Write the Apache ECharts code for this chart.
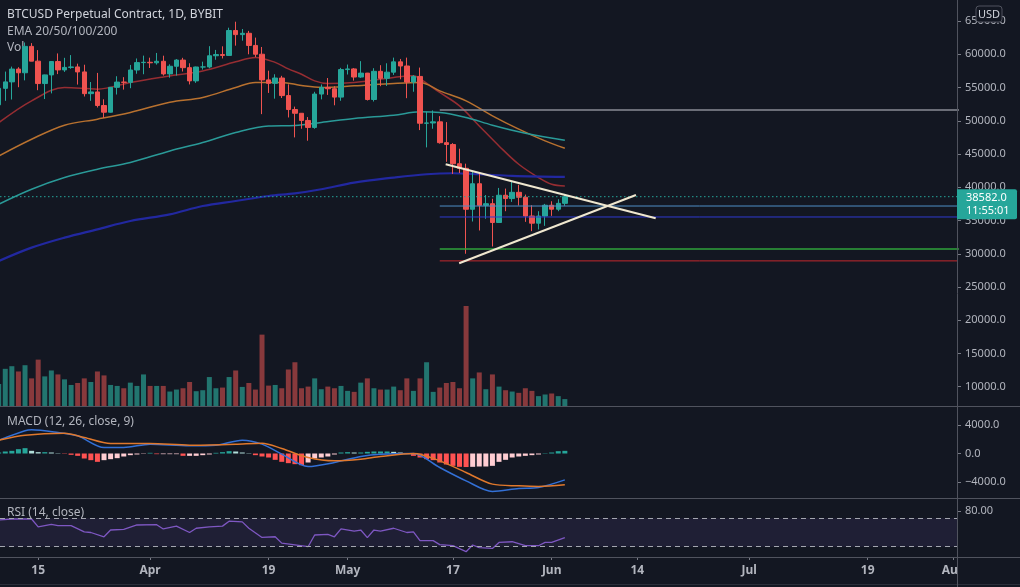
<!DOCTYPE html>
<html><head><meta charset="utf-8">
<script src="https://cdn.jsdelivr.net/npm/echarts@6/dist/echarts.min.js"></script>
<style>html,body{margin:0;padding:0;background:#131722;overflow:hidden}#c{width:1020px;height:587px}</style>
</head><body><div id="c"></div>
<script>
// ---- data (day index 0 = 2021-03-09) ----
const tickDays   = [6, 23, 41, 53, 69, 84, 97, 114, 132, 145];
const tickLabels = ['15', 'Apr', '19', 'May', '17', 'Jun', '14', 'Jul', '19', 'Au'];
const priceTicks = [10000,15000,20000,25000,30000,35000,40000,45000,50000,55000,60000,65000];
const macdTicks  = [-4000, 0, 4000];
const rsiTicks   = [80];

// [open, close, low, high]
const candles = [
[52400,54880,51850,54900],[54880,55850,53000,57400],[55850,57780,53200,58150],[57780,57220,55050,58060],
[57220,61190,56080,61780],[61190,58970,58960,61680],[58970,55600,54600,60630],[55600,56900,53270,56940],
[56900,58910,54120,58980],[58910,57650,57020,60130],[57650,58030,57350,59470],[58030,58100,57820,59880],
[58100,57350,55450,58590],[57350,54080,53650,58430],[54080,54340,53000,55830],[54340,52300,52000,57200],
[52300,51290,50430,53230],[51290,55030,51230,55070],[55030,55820,53950,56700],[55820,55780,54690,56560],
[55780,57640,54900,58400],[57640,58750,57070,59370],[58750,58800,57000,59800],[58800,58720,57940,59490],
[58720,58950,58450,60200],[58950,57050,56800,59790],[57050,58200,56480,58490],[58200,59130,56800,59280],
[59130,57990,57410,59470],[57990,56000,55470,58650],[56000,58090,55700,58150],[58090,58100,57700,58890],
[58100,59780,57900,61220],[59780,59960,59180,60660],[59960,59830,59370,61200],[59830,63580,59770,64000],
[63580,62960,61300,64900],[62960,63160,62050,63800],[63160,61330,60000,63520],[61330,60010,59580,62510],
[60010,56150,51000,61100],[56150,55630,54190,57530],[55630,56430,53330,57000],[56430,53790,53420,56760],
[53790,51690,50500,55480],[51690,51130,47500,52130],[51130,50050,48800,51170],[50050,49000,47000,50560],
[49000,54020,48800,54360],[54020,55030,53220,55460],[55030,54820,53890,56430],[54820,53560,52330,55200],
[53560,57700,53010,57960],[57700,57800,56960,58460],[57800,56580,56040,57940],[56580,57170,56450,58970],
[57170,53200,53050,57200],[53200,57440,52900,57910],[57440,56390,55200,58360],[56390,57310,55240,58650],
[57310,58860,56900,59500],[58860,58240,56240,59300],[58240,55820,53400,59500],[55820,56670,54370,56860],
[56670,49630,48600,58000],[49630,49670,46000,51370],[49670,49840,48800,51560],[49840,46710,46560,50700],
[46710,46430,43830,49800],[46430,43540,42000,46640],[43540,42850,42150,45800],[42850,36690,30000,43550],
[36690,40530,34850,42450],[40530,37280,33500,42250],[37280,37530,35260,38830],[37530,34700,31100,38270],
[34700,38800,34650,39900],[38800,38300,36400,39800],[38300,39240,37800,40850],[39240,38500,37250,40370],
[38500,35680,34800,38900],[35680,34600,33400,37300],[34600,35670,33650,36400],[35670,37300,34200,37500],
[37300,36700,35700,37900],[36700,37580,36400,38200],[37580,38582,37200,39000]
];
const volume = [
2200,3717,3980,3454,4079,2763,4638,2961,3553,3158,2664,2105,2303,2763,2401,3454,3059,2105,2007,1776,
2336,2007,3158,2007,2007,2007,1447,1645,1776,2401,1480,1579,2895,1776,1842,2895,3553,1908,2303,1645,
7138,2039,2105,1776,3651,4375,1776,1941,2763,1678,1941,1776,2007,1513,1414,2336,2763,1776,1645,1645,
1941,1579,2763,1513,2763,4375,1414,1842,2303,2401,1776,10000,2763,3355,1678,3158,1941,1579,1447,1316,
1776,1513,987,1151,1250,987,691
];
const ema20  = [[0,49700],[5,53000],[10,55000],[15,54760],[20,55770],[25,56600],[31,57500],[36,58870],[39,59530],[42,58780],[44,57800],[46,57000],[48,56000],[50,55600],[54,55770],[60,56520],[63,56760],[64,56300],[67,54260],[70,52240],[73,49230],[76,46220],[79,43460],[82,41460],[84,40450],[86,40200]];
const ema50  = [[0,44700],[5,47230],[10,49340],[15,50240],[20,51250],[26,52800],[31,53510],[36,55015],[39,55770],[43,55770],[46,55300],[49,55015],[54,55256],[60,55620],[64,55770],[67,54500],[71,53000],[75,50740],[79,48735],[83,46970],[86,45870]];
const ema100 = [[0,37440],[5,39700],[10,41460],[15,42710],[20,43720],[26,45470],[31,46730],[36,48240],[41,49230],[45,49300],[49,49745],[54,50350],[60,50840],[64,51340],[67,51250],[71,50500],[75,49340],[80,48130],[86,47080]];
const ema200 = [[0,28900],[5,30920],[10,32425],[15,33675],[20,34925],[26,35935],[31,37185],[36,37940],[41,38690],[45,39080],[49,39700],[54,40710],[60,41460],[65,41960],[69,42110],[73,41960],[78,41700],[86,41550]];
const macdLine   = [[0,1870],[4,3200],[5,3320],[9,2950],[12,2480],[16,840],[19,840],[23,1310],[29,1080],[33,1170],[37,1870],[40,1310],[43,-90],[47,-1830],[51,-1260],[55,-420],[58,-90],[63,0],[67,-1970],[71,-3840],[75,-5330],[79,-4910],[82,-4770],[86,-3700]];
const signalLine = [[0,1870],[4,2570],[10,2850],[13,2250],[17,1400],[23,1400],[29,1170],[36,1310],[40,1450],[43,700],[47,-560],[51,-1030],[55,-800],[58,-420],[63,0],[67,-1030],[71,-2670],[75,-4300],[79,-4540],[82,-4630],[86,-4400]];
const macdHist = [
140,281,374,608,749,374,187,187,140,47,-47,-187,-328,-702,-936,-1170,-936,-796,-655,-421,
-234,-140,-47,94,-94,-94,-94,-94,-328,-328,-328,-234,-140,94,187,328,281,140,47,-234,
-421,-562,-889,-1170,-1357,-1498,-1638,-1264,-702,-562,-421,-140,140,187,140,140,234,281,281,281,
234,140,20,-328,-562,-796,-936,-1264,-1545,-1732,-1872,-1900,-1872,-1825,-1825,-1732,-1170,-889,-562,-421,
-328,-234,-140,47,140,328,374
];
const rsi = [[0,67.6],[2,69],[5,69],[6,58],[8,61.5],[9,59.6],[11,59.6],[13,51],[14,50],[16,44],[17,53.5],[19,54.5],[21,60.6],[24,61],[25,55],[27,59],[29,50],[30,56],[32,58],[34,59],[35,66],[37,65],[38,56],[40,43],[42,44],[43,35],[47,30],[48,46.5],[50,47.4],[51,44],[52,55],[54,52],[55,53.5],[56,42.7],[57,53.5],[58,52],[60,56],[62,50],[63,51],[64,38.5],[66,38.5],[67,33],[69,31.4],[71,23],[72,32.4],[73,28.6],[75,27.6],[76,36],[78,37],[80,31.4],[82,31.4],[83,36],[84,36],[86,42.7]];
const lastPrice = 38582;
const levelStartDay = 67;
const levelPrices = [51620, 37180, 35530, 30720, 28930];
const upperTrend = [[67.9, 43455], [99.8, 35333]];
const lowerTrend = [[69.95, 28566], [96.8, 38838]];

// ---- styling ----
const X_MIN = 0.2, X_MAX = 145.57;
const UP = '#26a69a', DN = '#ef5350';
const levelColors = ['#8a8d96', '#4f8fc6', '#2f3ad0', '#2fa33b', '#c4282e'];
const levelWidths = [1.5, 1, 1, 1.5, 1];
const FONT = '"Noto Sans", "Open Sans", sans-serif';
const LBL = '#b2b5be';

const chart = echarts.init(document.getElementById('c'), null, {renderer: 'canvas', width: 1020, height: 587});

function xAx(g, show) {
  const ax = {type: 'value', gridIndex: g, min: X_MIN, max: X_MAX, splitLine: {show: false},
    axisLine: {show: false}, axisTick: {show: false}, axisLabel: {show: false}};
  if (show) {
    ax.axisLine = {show: true, lineStyle: {color: '#50535e'}};
    ax.axisTick = {show: true, customValues: tickDays, length: 3, lineStyle: {color: '#787b86'}};
    ax.axisLabel = {show: true, customValues: tickDays, color: LBL, fontSize: 12, fontWeight: 'bold',
      fontFamily: FONT, margin: 8,
      formatter: v => { const k = tickDays.indexOf(Math.round(v)); const t = k >= 0 ? tickLabels[k] : '';
        return k === tickDays.length - 1 ? '{au|' + t + '}' : t; },
      rich: {au: {color: LBL, fontSize: 12, fontWeight: 'bold', fontFamily: FONT, padding: [0, 7, 0, 0]}}};
  }
  return ax;
}
function yAx(g, min, max, ticks, dec) {
  return {type: 'value', gridIndex: g, position: 'right', min: min, max: max, splitLine: {show: false},
    axisLine: {show: false},
    axisTick: {show: true, customValues: ticks, length: 4, lineStyle: {color: '#787b86'}},
    axisLabel: {show: true, customValues: ticks, color: LBL, fontSize: 11, fontFamily: FONT, margin: 8,
      formatter: v => (v < 0 ? '\u2212' : '') + Math.abs(v).toFixed(dec)}};
}

const histData = macdHist.map((v, i) => {
  const p = i > 0 ? macdHist[i - 1] : v;
  const col = v >= 0 ? (v >= p ? '#26a69a' : '#b2dfdb') : (v < p ? '#ff5252' : '#ffcdd2');
  return {value: [i, v], itemStyle: {color: col}};
});
const volData = volume.map((v, i) => ({value: [i, v],
  itemStyle: {color: candles[i][1] >= candles[i][0] ? '#22756f' : '#88393c'}}));

function lineS(data, color, width, extra) {
  return Object.assign({type: 'line', xAxisIndex: 0, yAxisIndex: 0, data: data, symbol: 'none',
    silent: true, lineStyle: {color: color, width: width}, z: 3}, extra || {});
}

const series = [
  {type: 'bar', xAxisIndex: 0, yAxisIndex: 1, data: volData, barWidth: 5, z: 1, silent: true},
  lineS(ema20, '#962d32', 1.5, {smooth: 0.35}),
  lineS(ema50, '#b8712f', 1.5, {smooth: 0.35}),
  lineS(ema100, '#2a9a98', 1.5, {smooth: 0.35}),
  lineS(ema200, '#2228a0', 2.2, {smooth: 0.35}),
  {type: 'candlestick', xAxisIndex: 0, yAxisIndex: 0, barWidth: 5, z: 4, silent: true,
    data: candles.map((c, i) => [i, c[0], c[1], c[2], c[3]]),
    encode: {x: 0, y: [1, 2, 3, 4]},
    itemStyle: {color: UP, color0: DN, borderColor: UP, borderColor0: DN, borderWidth: 1}},
  lineS([[X_MIN, lastPrice], [X_MAX + 2, lastPrice]], UP, 1, {lineStyle: {color: UP, width: 1, type: [1.5, 2.5]}, z: 5})
];
levelPrices.forEach((p, k) => series.push(lineS([[levelStartDay, p], [X_MAX + 2, p]], levelColors[k], levelWidths[k], {z: 6})));
series.push(lineS(upperTrend, '#efe7cf', 2, {z: 7}));
series.push(lineS(lowerTrend, '#efe7cf', 2, {z: 7}));
series.push({type: 'bar', xAxisIndex: 1, yAxisIndex: 2, data: histData, barWidth: 5, silent: true, z: 2});
series.push({type: 'line', xAxisIndex: 1, yAxisIndex: 2, data: macdLine, symbol: 'none', smooth: 0.3, silent: true,
  lineStyle: {color: '#3370d6', width: 1.5}, z: 3});
series.push({type: 'line', xAxisIndex: 1, yAxisIndex: 2, data: signalLine, symbol: 'none', smooth: 0.3, silent: true,
  lineStyle: {color: '#e0782c', width: 1.5}, z: 3});
series.push({type: 'line', xAxisIndex: 2, yAxisIndex: 3, data: rsi, symbol: 'none', silent: true,
  lineStyle: {color: '#7e57c2', width: 1.3}, z: 3,
  markArea: {silent: true, itemStyle: {color: 'rgba(126,87,194,0.12)'}, data: [[{yAxis: 70}, {yAxis: 30}]]},
  markLine: {silent: true, symbol: 'none', label: {show: false},
    lineStyle: {type: [5, 4], color: '#a3a6af', width: 1}, data: [{yAxis: 70}, {yAxis: 30}]}});

const SEP = '#50535e';
function txt(x, y, t, size, color, z) {
  return {type: 'text', x: x, y: y, z: z || 0, silent: true,
    style: {text: t, fill: color, font: size + 'px ' + FONT, verticalAlign: 'middle', textVerticalAlign: 'middle'}};
}
const gridBase = {left: 0, right: 63, outerBoundsMode: 'none', containLabel: false};
chart.setOption({
  animation: false,
  backgroundColor: '#131722',
  textStyle: {fontFamily: FONT},
  grid: [Object.assign({top: 0, height: 406}, gridBase),
         Object.assign({top: 406, height: 92}, gridBase),
         Object.assign({top: 498, height: 59}, gridBase)],
  xAxis: [xAx(0, false), xAx(1, false), xAx(2, true)],
  yAxis: [yAx(0, 7103, 68166, priceTicks, 1),
          {type: 'value', gridIndex: 0, min: 0, max: 40600, show: false},
          yAx(1, -6246, 6667, macdTicks, 1),
          yAx(2, 15.5, 98.6, rsiTicks, 2)],
  series: series
});

const py = chart.convertToPixel({yAxisIndex: 0}, lastPrice);
chart.setOption({graphic: [
  txt(7, 15, 'BTCUSD Perpetual Contract, 1D, BYBIT', 12, '#d1d4dc'),
  txt(7, 31.5, 'EMA 20/50/100/200', 12, '#b2b5be'),
  txt(7, 48, 'Vol', 12, '#b2b5be'),
  txt(7, 422, 'MACD (12, 26, close, 9)', 12, '#b2b5be', 20),
  txt(7, 513, 'RSI (14, close)', 12, '#b2b5be', 20),
  {type: 'line', z: 50, silent: true, shape: {x1: 0, y1: 406.5, x2: 1020, y2: 406.5}, style: {stroke: SEP, lineWidth: 1}},
  {type: 'line', z: 50, silent: true, shape: {x1: 0, y1: 498.5, x2: 1020, y2: 498.5}, style: {stroke: SEP, lineWidth: 1}},
  {type: 'line', z: 50, silent: true, shape: {x1: 0, y1: 557.5, x2: 1020, y2: 557.5}, style: {stroke: SEP, lineWidth: 1}},
  {type: 'line', z: 50, silent: true, shape: {x1: 0, y1: 584.5, x2: 1020, y2: 584.5}, style: {stroke: '#2a2e39', lineWidth: 1}},
  {type: 'line', z: 50, silent: true, shape: {x1: 957.5, y1: 0, x2: 957.5, y2: 587}, style: {stroke: SEP, lineWidth: 1}},
  {type: 'rect', z: 60, silent: true, shape: {x: 957, y: py - 7.5, width: 60, height: 30, r: [0, 2, 2, 0]}, style: {fill: UP}},
  txt(966, py + 1, lastPrice.toFixed(1), 11, '#ffffff', 61),
  txt(966, py + 14, '11:55:01', 11, '#ffffff', 61),
  {type: 'rect', z: 60, silent: true, shape: {x: 976, y: 6, width: 26, height: 16, r: 3}, style: {fill: '#131722', stroke: '#50535e', lineWidth: 1}},
  {type: 'text', z: 61, silent: true, x: 989, y: 14.5, style: {text: 'USD', fill: '#d1d4dc', font: '11px ' + FONT, align: 'center', verticalAlign: 'middle', textAlign: 'center', textVerticalAlign: 'middle'}}
]});
</script>
</body></html>
